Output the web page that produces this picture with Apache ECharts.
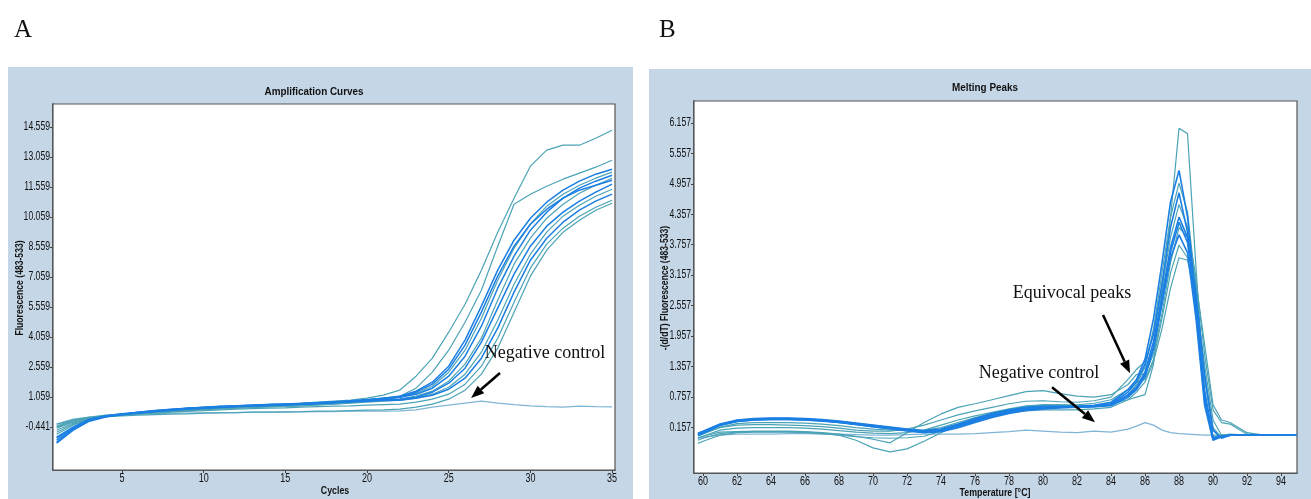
<!DOCTYPE html>
<html>
<head>
<meta charset="utf-8">
<script src="https://cdn.jsdelivr.net/npm/echarts@6/dist/echarts.min.js"></script>
<style>
  html, body { margin: 0; padding: 0; background: #ffffff; }
  #chart { width: 1311px; height: 499px; }
</style>
</head>
<body>
<div id="chart"></div>
<script>
// ---------- Panel A: amplification curves (fluorescence per cycle) ----------
const cycles = [1,2,3,4,5,6,7,8,9,10,11,12,13,14,15,16,17,18,19,20,21,22,23,24,25,26,27,28,29,30,31,32,33,34,35];
const xTicksA = [5, 10, 15, 20, 25, 30, 35];
const yTicksA = [-0.441, 1.059, 2.559, 4.059, 5.559, 7.059, 8.559, 10.059, 11.559, 13.059, 14.559];

const amp1  = [-0.6,-0.25,-0.05,0.12,0.2,0.28,0.36,0.42,0.5,0.55,0.6,0.62,0.66,0.7,0.72,0.76,0.8,0.85,0.9,1.0,1.15, 1.4,2.1,3.0,4.3,5.7,7.4,9.3,11.0,12.6,13.4,13.65,13.65,14.0,14.4];
const amp2  = [-0.4,-0.1,0.05,0.15,0.2,0.25,0.32,0.4,0.45,0.5,0.55,0.58,0.6,0.62,0.65,0.7,0.75,0.8,0.85,0.92,1.0, 1.1,1.5,2.3,3.4,4.8,6.4,8.6,10.7,11.2,11.6,11.95,12.25,12.55,12.9];
const amp3  = [-1.1,-0.55,-0.1,0.1,0.2,0.28,0.35,0.42,0.48,0.52,0.56,0.6,0.62,0.65,0.68,0.72,0.75,0.8,0.85,0.9,1.0, 1.1,1.35,1.8,2.6,3.9,5.6,7.4,8.9,10.0,10.8,11.4,11.85,12.2,12.45];
const amp4  = [-0.5,-0.2,0.0,0.12,0.18,0.25,0.3,0.36,0.42,0.46,0.5,0.54,0.57,0.6,0.63,0.66,0.7,0.75,0.8,0.85,0.92, 1.05,1.25,1.6,2.3,3.4,5.0,6.9,8.5,9.7,10.6,11.2,11.65,12.0,12.3];
const amp5  = [-1.25,-0.6,-0.12,0.08,0.18,0.26,0.34,0.4,0.46,0.5,0.55,0.58,0.62,0.64,0.67,0.7,0.74,0.78,0.84,0.9,0.98, 1.05,1.2,1.5,2.1,3.1,4.6,6.5,8.1,9.4,10.3,11.0,11.5,11.85,12.15];
const amp6  = [-0.7,-0.3,-0.02,0.1,0.17,0.24,0.3,0.36,0.4,0.45,0.48,0.52,0.55,0.58,0.6,0.63,0.67,0.72,0.78,0.84,0.9, 0.95,1.1,1.35,1.85,2.7,4.0,5.9,7.7,9.0,10.0,10.7,11.25,11.65,12.0];
const amp7  = [-1.0,-0.5,-0.08,0.1,0.2,0.3,0.37,0.44,0.5,0.54,0.58,0.61,0.64,0.67,0.7,0.73,0.76,0.8,0.84,0.88,0.92, 0.95,1.05,1.3,1.75,2.5,3.8,5.5,7.2,8.6,9.6,10.3,10.85,11.3,11.7];
const amp8  = [-0.45,-0.15,0.02,0.12,0.18,0.22,0.28,0.33,0.38,0.42,0.46,0.5,0.53,0.56,0.58,0.62,0.66,0.7,0.75,0.8,0.85, 0.9,1.0,1.2,1.55,2.2,3.3,4.9,6.7,8.2,9.3,10.1,10.65,11.1,11.45];
const amp9  = [-1.2,-0.6,-0.15,0.06,0.17,0.26,0.33,0.4,0.46,0.5,0.54,0.58,0.61,0.64,0.67,0.7,0.73,0.77,0.81,0.85,0.88, 0.9,1.0,1.15,1.45,2.0,3.0,4.5,6.3,7.9,9.0,9.8,10.4,10.85,11.2];
const amp10 = [-0.8,-0.35,-0.05,0.08,0.15,0.2,0.25,0.3,0.34,0.38,0.42,0.45,0.48,0.5,0.52,0.55,0.58,0.6,0.62,0.65,0.68, 0.7,0.8,0.95,1.2,1.7,2.6,4.0,5.8,7.5,8.7,9.5,10.1,10.55,10.9];
const amp11 = [-0.3,-0.1,0.0,0.08,0.12,0.15,0.18,0.2,0.22,0.25,0.27,0.28,0.3,0.3,0.32,0.33,0.35,0.36,0.38,0.4,0.42, 0.45,0.55,0.7,0.95,1.4,2.2,3.5,5.3,7.1,8.4,9.3,9.9,10.4,10.75];
const amp12 = [-0.95,-0.45,-0.05,0.12,0.22,0.3,0.38,0.45,0.5,0.55,0.59,0.62,0.66,0.68,0.71,0.74,0.78,0.82,0.87,0.93,1.0, 1.05,1.3,1.7,2.45,3.65,5.3,7.1,8.6,9.7,10.45,11.0,11.4,11.65,11.9];
const ampNegative = [-0.3,-0.05,0.05,0.1,0.15,0.2,0.22,0.25,0.25,0.27,0.28,0.28,0.3,0.3,0.3,0.32,0.33,0.33,0.35,0.35,0.35, 0.37,0.42,0.55,0.65,0.75,0.85,0.75,0.68,0.62,0.58,0.55,0.6,0.58,0.57];

// ---------- Panel B: melting peaks, -(d/dT) fluorescence per temperature ----------
const temps = [59.7,60,61,62,63,64,65,66,67,68,69,70,71,72,73,74,75,76,77,78,79,80,81,82,83,84,85,85.5,86,86.5,87,87.5,88,88.5,89,89.5,90,90.5,91,92,93,94,94.9];
const xTicksB = [60,62,64,66,68,70,72,74,76,78,80,82,84,86,88,90,92,94];
const yTicksB = [0.157, 0.757, 1.357, 1.957, 2.557, 3.157, 3.757, 4.357, 4.957, 5.557, 6.157];

const melt1  = [-0.02,0.02,0.16,0.23,0.25,0.25,0.25,0.24,0.22,0.19,0.15,0.12,0.1,0.09,0.1,0.15,0.25,0.35,0.43,0.5,0.55,0.58,0.58,0.57,0.58, 0.62,0.7,0.75,0.8,1.4,2.85,4.3,6.05,5.95,3.3,0.75,-0.02,0.0,0.02,0.0,0.0,0.0,0.0];
const melt2  = [0.04,0.08,0.22,0.3,0.33,0.34,0.34,0.33,0.31,0.28,0.24,0.2,0.16,0.12,0.09,0.12,0.22,0.33,0.43,0.5,0.55,0.57,0.57,0.57,0.59, 0.65,0.9,1.1,1.5,2.3,3.4,4.6,5.22,4.3,2.6,0.8,-0.05,-0.02,0.0,0.0,0.0,0.0,0.0];
const melt3  = [-0.06,-0.02,0.1,0.14,0.15,0.15,0.15,0.14,0.12,0.09,0.06,0.04,0.03,0.05,0.1,0.2,0.3,0.38,0.45,0.52,0.58,0.6,0.6,0.58,0.58, 0.6,0.8,1.0,1.35,2.1,3.2,4.3,4.97,4.4,2.9,1.1,0.1,-0.05,0.0,0.0,0.0,0.0,0.0];
const melt4  = [0.0,0.04,0.19,0.27,0.3,0.31,0.31,0.3,0.28,0.25,0.21,0.17,0.13,0.09,0.06,0.08,0.17,0.27,0.37,0.45,0.5,0.53,0.55,0.56,0.58, 0.62,0.85,1.05,1.4,2.0,3.0,4.1,4.78,4.0,2.4,0.7,-0.08,-0.03,0.0,0.0,0.0,0.0,0.0];
const melt5  = [0.0,0.04,0.15,0.2,0.21,0.21,0.2,0.19,0.17,0.14,0.1,0.08,0.08,0.12,0.2,0.3,0.4,0.48,0.55,0.62,0.67,0.68,0.66,0.65,0.68, 0.75,1.1,1.3,1.45,2.0,2.9,3.9,4.55,4.1,3.1,1.6,0.5,0.25,0.22,0.02,0.0,0.0,0.0];
const melt6  = [0.03,0.07,0.21,0.29,0.32,0.33,0.33,0.32,0.3,0.27,0.23,0.19,0.15,0.11,0.08,0.11,0.21,0.31,0.41,0.48,0.53,0.56,0.56,0.55,0.57, 0.6,0.8,0.95,1.25,1.85,2.75,3.7,4.3,3.9,2.8,1.2,0.1,-0.06,0.0,0.0,0.0,0.0,0.0];
const melt7  = [0.01,0.05,0.2,0.28,0.31,0.32,0.32,0.31,0.29,0.26,0.22,0.18,0.14,0.1,0.06,0.09,0.19,0.29,0.39,0.46,0.51,0.54,0.55,0.55,0.56, 0.58,0.75,0.9,1.15,1.7,2.6,3.6,4.2,3.8,2.5,0.9,-0.05,-0.02,0.0,0.0,0.0,0.0,0.0];
const melt8  = [-0.05,-0.02,0.06,0.07,0.08,0.08,0.08,0.07,0.05,0.02,-0.02,-0.08,-0.15,0.05,0.25,0.42,0.55,0.62,0.7,0.78,0.86,0.88,0.82,0.77,0.75, 0.8,1.0,1.2,1.2,1.6,2.4,3.4,4.1,3.9,3.0,1.8,0.6,0.3,0.25,0.05,0.0,0.0,0.0];
const melt9  = [0.02,0.06,0.2,0.27,0.3,0.31,0.31,0.3,0.28,0.25,0.21,0.17,0.13,0.09,0.05,0.07,0.15,0.25,0.35,0.43,0.49,0.52,0.54,0.55,0.56, 0.6,0.78,0.92,1.2,1.75,2.6,3.5,3.95,3.6,2.3,0.6,-0.1,-0.03,0.0,0.0,0.0,0.0,0.0];
const melt10 = [-0.1,-0.06,0.03,0.06,0.07,0.07,0.07,0.06,0.04,0.0,-0.1,-0.25,-0.33,-0.27,-0.12,0.05,0.2,0.32,0.42,0.5,0.56,0.6,0.6,0.6,0.63, 0.7,0.9,1.05,1.1,1.5,2.3,3.2,3.75,3.5,2.6,1.2,0.15,-0.05,0.0,0.0,0.0,0.0,0.0];
const melt11 = [-0.16,-0.12,0.0,0.05,0.06,0.06,0.06,0.05,0.03,0.0,-0.03,-0.05,-0.06,-0.05,-0.02,0.08,0.2,0.3,0.38,0.44,0.48,0.5,0.5,0.5,0.52, 0.55,0.7,0.85,1.05,1.45,2.1,2.9,3.5,3.45,2.7,1.4,0.3,0.0,0.0,0.0,0.0,0.0,0.0];
const meltNegative = [-0.06,-0.04,0.0,0.02,0.02,0.02,0.03,0.03,0.02,0.02,0.01,0.0,0.0,0.01,0.02,0.02,0.02,0.03,0.05,0.07,0.1,0.08,0.06,0.05,0.08, 0.06,0.12,0.18,0.25,0.2,0.1,0.05,0.03,0.02,0.01,0.0,0.0,0.0,0.0,0.0,0.0,0.0,0.0];

// ---------- styling ----------
const TEAL = '#4ba3b6';
const BLUE = '#1b7fe3';
const PALE = '#7fb5d6';
const PANEL = '#c5d6e7';
const SANS = "'Liberation Sans',Arial,sans-serif";
const SERIF = "'Liberation Serif','Times New Roman',serif";
const SQUEEZE = 0.72; // horizontal squeeze giving condensed lettering

const ampCurves = [
  { v: ampNegative, c: PALE, w: 1.3 },
  { v: amp1, c: TEAL, w: 1.2 }, { v: amp2, c: TEAL, w: 1.2 }, { v: amp4, c: TEAL, w: 1.2 },
  { v: amp6, c: TEAL, w: 1.2 }, { v: amp8, c: TEAL, w: 1.2 }, { v: amp10, c: TEAL, w: 1.2 },
  { v: amp11, c: TEAL, w: 1.2 },
  { v: amp3, c: BLUE, w: 1.5 }, { v: amp5, c: BLUE, w: 1.5 }, { v: amp7, c: BLUE, w: 1.5 },
  { v: amp9, c: BLUE, w: 1.5 }, { v: amp12, c: BLUE, w: 1.5 }
];
const meltCurves = [
  { v: meltNegative, c: PALE, w: 1.3 },
  { v: melt1, c: TEAL, w: 1.2 }, { v: melt3, c: TEAL, w: 1.2 }, { v: melt5, c: TEAL, w: 1.2 },
  { v: melt8, c: TEAL, w: 1.2 }, { v: melt10, c: TEAL, w: 1.2 }, { v: melt11, c: TEAL, w: 1.2 },
  { v: melt2, c: BLUE, w: 1.6 }, { v: melt4, c: BLUE, w: 1.6 }, { v: melt6, c: BLUE, w: 1.6 },
  { v: melt7, c: BLUE, w: 1.6 }, { v: melt9, c: BLUE, w: 1.6 }
];

function lineSeries(curves, xs, idx) {
  return curves.map(cv => ({
    type: 'line', xAxisIndex: idx, yAxisIndex: idx,
    data: xs.map((x, i) => [x, cv.v[i]]),
    symbol: 'none', showSymbol: false, silent: true,
    lineStyle: { color: cv.c, width: cv.w },
    z: 3
  }));
}

// Axis lines and ticks come from ECharts; the tick labels and names are drawn
// afterwards as condensed text placed through the same axes.
function valueAxis(gridIndex, min, max, ticks) {
  return {
    type: 'value', gridIndex, min, max,
    splitLine: { show: false },
    axisLine: { show: true, onZero: false, lineStyle: { color: '#333', width: 1.5 } },
    axisTick: { show: true, customValues: ticks, length: 3, inside: false, lineStyle: { color: '#444', width: 1 } },
    axisLabel: { show: false }
  };
}

const chart = echarts.init(document.getElementById('chart'), null, { renderer: 'canvas' });

const grids = [
  { left: 53, top: 104, width: 562, height: 366 },
  { left: 694, top: 101, width: 603, height: 372 }
];

chart.setOption({
  animation: false,
  backgroundColor: '#ffffff',
  title: [
    { text: 'A', left: 9, top: 13, textStyle: { fontFamily: SERIF, fontSize: 25, fontWeight: 'normal', color: '#111' } },
    { text: 'B', left: 654, top: 13, textStyle: { fontFamily: SERIF, fontSize: 25, fontWeight: 'normal', color: '#111' } }
  ],
  grid: grids.map(g => Object.assign({ show: true, backgroundColor: '#ffffff', borderColor: '#555', borderWidth: 1.2, z: 1 }, g)),
  xAxis: [ valueAxis(0, 0.775, 35.18, xTicksA), valueAxis(1, 59.47, 94.94, xTicksB) ],
  yAxis: [ valueAxis(0, -2.591, 15.709, yTicksA), valueAxis(1, -0.745, 6.59, yTicksB) ],
  graphic: [
    { id: 'panelA', type: 'rect', z: -100, silent: true, shape: { x: 8, y: 67, width: 625, height: 440 }, style: { fill: PANEL } },
    { id: 'panelB', type: 'rect', z: -100, silent: true, shape: { x: 649, y: 69, width: 670, height: 440 }, style: { fill: PANEL } }
  ],
  series: [].concat(lineSeries(ampCurves, cycles, 0), lineSeries(meltCurves, temps, 1))
});

const extra = [];
let uid = 0;
function squeezedText(x, y, text, opts) {
  extra.push({
    id: 't' + (uid++), type: 'text', z: 10, silent: true,
    x, y, scaleX: opts.squeeze || SQUEEZE,
    style: {
      text, x: 0, y: 0, align: opts.align || 'center', verticalAlign: 'middle',
      fontFamily: SANS, fontSize: opts.size || 11, fontWeight: opts.bold ? 'bold' : 'normal', fill: '#111'
    }
  });
}

// tick labels
const axisMeta = [
  { grid: 0, xTicks: xTicksA, yTicks: yTicksA, xMin: 0.775, yMin: -2.591 },
  { grid: 1, xTicks: xTicksB, yTicks: yTicksB, xMin: 59.47, yMin: -0.745 }
];
axisMeta.forEach(m => {
  const g = grids[m.grid];
  m.xTicks.forEach(t => {
    const p = chart.convertToPixel({ gridIndex: m.grid }, [t, m.yMin]);
    squeezedText(p[0], g.top + g.height + 8.5, String(t), { size: 12.5 });
  });
  m.yTicks.forEach(t => {
    const p = chart.convertToPixel({ gridIndex: m.grid }, [m.xMin, t]);
    squeezedText(g.left - 3, p[1], String(t), { size: 12, align: 'right' });
  });
});

// panel titles and axis names
squeezedText(314, 92, 'Amplification Curves', { size: 11, bold: true, squeeze: 0.9 });
squeezedText(985, 88, 'Melting Peaks', { size: 11, bold: true, squeeze: 0.9 });
squeezedText(335, 491, 'Cycles', { size: 11, bold: true, squeeze: 0.8 });
squeezedText(995, 493, 'Temperature [°C]', { size: 11, bold: true, squeeze: 0.8 });
// vertical names: squeezed along the text direction before rotating
function verticalName(x, y, text) {
  extra.push({
    id: 't' + (uid++), type: 'text', z: 10, silent: true,
    x, y, rotation: Math.PI / 2, scaleX: 0.86,
    style: { text, x: 0, y: 0, align: 'center', verticalAlign: 'middle',
             fontFamily: SANS, fontSize: 10, fontWeight: 'bold', fill: '#111' }
  });
}
verticalName(20, 288, 'Fluorescence (483-533)');
verticalName(665, 288, '-(d/dT) Fluorescence (483-533)');

// ---------- annotations, anchored in data coordinates ----------
const notes = [
  { grid: 0, text: 'Negative control', at: [30.9, 3.26], from: [28.14, 2.26], to: [26.37, 1.01] },
  { grid: 1, text: 'Equivocal peaks', at: [81.71, 2.8], from: [83.53, 2.37], to: [85.12, 1.22] },
  { grid: 1, text: 'Negative control', at: [79.76, 1.22], from: [80.53, 0.946], to: [83.06, 0.256] }
];
notes.forEach(n => {
  const p = chart.convertToPixel({ gridIndex: n.grid }, n.at);
  const a = chart.convertToPixel({ gridIndex: n.grid }, n.from);
  const b = chart.convertToPixel({ gridIndex: n.grid }, n.to);
  const dx = b[0] - a[0], dy = b[1] - a[1];
  const len = Math.sqrt(dx * dx + dy * dy);
  const ux = dx / len, uy = dy / len;
  const headLen = 13, headHalf = 5;
  const bx = b[0] - ux * headLen, by = b[1] - uy * headLen;
  extra.push({
    id: 't' + (uid++), type: 'text', z: 10, silent: true,
    style: { text: n.text, x: p[0], y: p[1], align: 'center', verticalAlign: 'middle',
             fontFamily: SERIF, fontSize: 18, fill: '#111' }
  });
  extra.push({
    id: 't' + (uid++), type: 'line', z: 10, silent: true,
    shape: { x1: a[0], y1: a[1], x2: bx, y2: by },
    style: { stroke: '#000', lineWidth: 2.5 }
  });
  extra.push({
    id: 't' + (uid++), type: 'polygon', z: 10, silent: true,
    shape: { points: [[b[0], b[1]], [bx - uy * headHalf, by + ux * headHalf], [bx + uy * headHalf, by - ux * headHalf]] },
    style: { fill: '#000' }
  });
});
chart.setOption({ graphic: extra });
</script>
</body>
</html>
